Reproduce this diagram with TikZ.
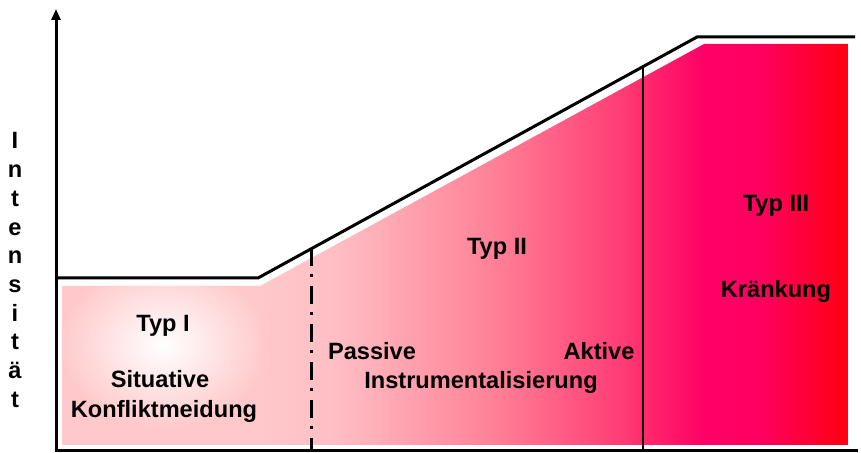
\documentclass[tikz,border=0pt]{standalone}
\usepackage{fontspec}
\setmainfont{Liberation Sans}
\usetikzlibrary{arrows.meta}
\definecolor{cA}{RGB}{255,200,202}
\definecolor{cB}{RGB}{255,190,196}
\definecolor{cC}{RGB}{255,128,150}
\definecolor{cD}{RGB}{255,58,116}
\definecolor{cE}{RGB}{255,42,108}
\definecolor{cF}{RGB}{255,0,102}
\definecolor{cG}{RGB}{255,0,96}
\definecolor{cH}{RGB}{255,0,16}
\begin{document}
\begin{tikzpicture}[x=0.5pt,y=-0.5pt,
  lbl/.style={font=\fontsize{11.8}{14}\selectfont\bfseries, inner sep=0pt, anchor=base},
  heavy/.style={line width=1.5pt, line join=miter},
  dashdot/.style={line width=1.5pt, dash pattern=on 9pt off 4pt on 1.5pt off 4.5pt}]
\useasboundingbox (0,0) rectangle (861,453);
% filled area
\begin{scope}
\clip (62,286) -- (260,286) -- (704,44) -- (848,44) -- (848,445) -- (62,445) -- cycle;
\fill[cA] (60,0) rectangle (260.5,453);
\shade[inner color=white, outer color=cA] (163,345) ellipse [x radius=105, y radius=85];
\shade[left color=cA, right color=cB] (260,0) rectangle (335.5,453);
\shade[left color=cB, right color=cC] (335,0) rectangle (495.5,453);
\shade[left color=cC, right color=cD] (495,0) rectangle (625.5,453);
\shade[left color=cD, right color=cE] (625,0) rectangle (643.5,453);
\shade[left color=cE, right color=cF] (643,0) rectangle (704.5,453);
\shade[left color=cF, right color=cG] (704,0) rectangle (760.5,453);
\shade[left color=cG, right color=cH] (760,0) rectangle (850,453);
\end{scope}
% coordinates
\coordinate (o) at (56,451);
\coordinate (ytop) at (56,9);
\coordinate (xend) at (858,451);
\coordinate (p1) at (56,278);
\coordinate (p2) at (258,278);
\coordinate (p3) at (697,37);
\coordinate (p4) at (855,37);
\coordinate (dtop) at (311,248);
\coordinate (dbot) at (311,451);
\coordinate (stop) at (643,65);
\coordinate (sbot) at (643,451);
% outline and axes
\draw[heavy] (p1) -- (p2) -- (p3) -- (p4);
\draw[dashdot] (dtop) -- (dbot);
\draw[line width=1.3pt] (stop) -- (sbot);
\draw[heavy] ([xshift=-0.75pt]o) -- (xend);
\draw[heavy, -{Triangle[width=4.5pt,length=5.5pt]}] ([yshift=-0.75pt]o) -- (ytop);
% labels
\node[lbl] (t1) at (163,332) {Typ I};
\node[lbl] (t1a) at (160,388) {Situative};
\node[lbl] (t1b) at (164,418) {Konfliktmeidung};
\node[lbl] (t2) at (497,255) {Typ II};
\node[lbl] (t2a) at (372,360) {Passive};
\node[lbl] (t2b) at (599,360) {Aktive};
\node[lbl] (t2c) at (481,389) {Instrumentalisierung};
\node[lbl] (t3) at (776,212) {Typ III};
\node[lbl] (t3a) at (776,298) {Kränkung};
% vertical axis label
\foreach \ch [count=\i from 0] in {I,n,t,e,n,s,i,t,ä,t}
  \node[lbl] (l\i) at (15,149+28.7*\i) {\ch};
\end{tikzpicture}
\end{document}
